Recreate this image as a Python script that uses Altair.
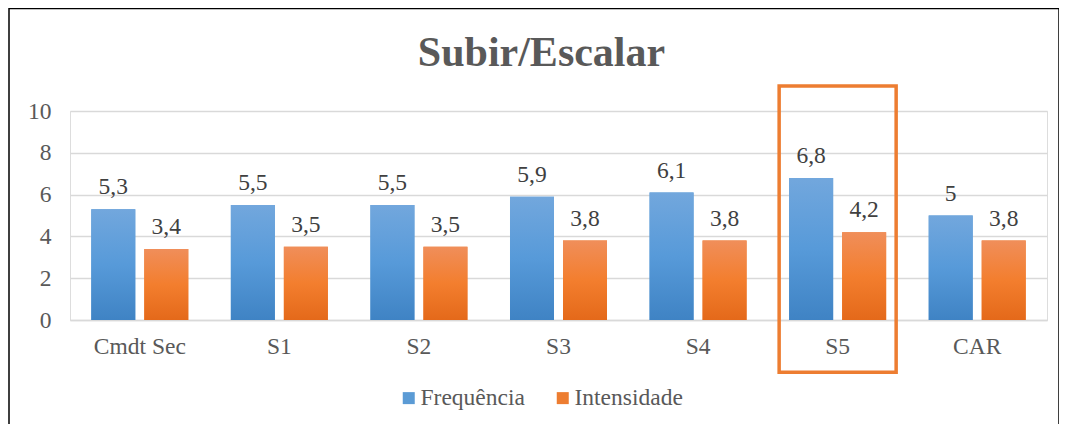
import altair as alt
import pandas as pd

categories = ["Cmdt Sec", "S1", "S2", "S3", "S4", "S5", "CAR"]
frequencia = [5.3, 5.5, 5.5, 5.9, 6.1, 6.8, 5.0]
intensidade = [3.4, 3.5, 3.5, 3.8, 3.8, 4.2, 3.8]
series_names = ["Frequência", "Intensidade"]
highlight = "S5"


def fmt(v):
    s = f"{v:g}"
    return s.replace(".", ",")


rows = []
for c, f, i in zip(categories, frequencia, intensidade):
    rows.append({"cat": c, "series": series_names[0], "value": f, "label": fmt(f)})
    rows.append({"cat": c, "series": series_names[1], "value": i, "label": fmt(i)})
df = pd.DataFrame(rows)

GRAY = "#595959"
FONT = "Times New Roman, Liberation Serif, DejaVu Serif, serif"

xenc = alt.X("cat:N", sort=categories,
             scale=alt.Scale(paddingInner=0.305, paddingOuter=0.1525),
             axis=alt.Axis(title=None, labelAngle=0, labelFontSize=23.5, labelFont=FONT,
                           labelColor=GRAY, ticks=False, domainColor="#d9d9d9",
                           domainWidth=1.5, labelPadding=14))
xoff = alt.XOffset("series:N", sort=series_names, scale=alt.Scale(paddingInner=0.17))
yenc = alt.Y("value:Q", scale=alt.Scale(domain=[0, 10], nice=False, zero=True),
             axis=alt.Axis(title=None, values=[0, 2, 4, 6, 8, 10], labelFontSize=23.5,
                           labelFont=FONT, labelColor=GRAY, ticks=False, domain=False,
                           gridColor="#d9d9d9", gridWidth=1.5, labelPadding=19))

base = alt.Chart(df)

solid = base.mark_bar().encode(
    x=xenc, xOffset=xoff, y=yenc,
    color=alt.Color("series:N", sort=series_names,
                    scale=alt.Scale(domain=series_names, range=["#5b9bd5", "#ed7d31"]),
                    legend=alt.Legend(title=None, orient="none", direction="horizontal",
                                      legendX=327, legendY=275, symbolType="square",
                                      symbolSize=144, symbolOpacity=1, labelFontSize=23.5,
                                      labelFont=FONT, labelColor=GRAY, labelOffset=0,
                                      columnPadding=26, symbolStrokeWidth=0)),
)

blue_grad = alt.LinearGradient(gradient="linear", x1=0, x2=0, y1=0, y2=1, stops=[
    alt.GradientStop(offset=0, color="#72a7dd"),
    alt.GradientStop(offset=0.5, color="#579ad9"),
    alt.GradientStop(offset=1, color="#3f83c4")])
orange_grad = alt.LinearGradient(gradient="linear", x1=0, x2=0, y1=0, y2=1, stops=[
    alt.GradientStop(offset=0, color="#f08e5a"),
    alt.GradientStop(offset=0.5, color="#f37e2e"),
    alt.GradientStop(offset=1, color="#e4691a")])

blue = base.transform_filter(alt.datum.series == series_names[0]).mark_bar(
    color=blue_grad).encode(x=xenc, xOffset=xoff, y=yenc)
orange = base.transform_filter(alt.datum.series == series_names[1]).mark_bar(
    color=orange_grad).encode(x=xenc, xOffset=xoff, y=yenc)

labels = base.mark_text(baseline="alphabetic", dy=-15, fontSize=23.5, font=FONT,
                        color="#404040").encode(x=xenc, xOffset=xoff, y=yenc,
                                                text="label:N")

hl_df = pd.DataFrame({"cat": [highlight], "top": [11.2], "bottom": [-2.5]})
hl = alt.Chart(hl_df).mark_bar(size=117, filled=False, stroke="#ed7d31",
                               strokeWidth=3.5, fill=None).encode(
    x=alt.X("cat:N", sort=categories), y=alt.Y("top:Q"), y2="bottom:Q")

border_df = pd.DataFrame({"k": [0]})
border = alt.Chart(border_df).mark_rect(fill=None, stroke="#000000", strokeWidth=1.5).encode(
    x=alt.value(-61), x2=alt.value(989), y=alt.value(-102.5), y2=alt.value(330))

chart = alt.layer(solid, blue, orange, labels, hl, border).properties(
    width=977, height=209,
    title=alt.TitleParams("Subir/Escalar", fontSize=42, font=FONT, fontWeight="bold",
                          color=GRAY, anchor="middle", dx=-17, offset=-100,
                          baseline="alphabetic"),
    autosize=alt.AutoSizeParams(type="none"),
    padding={"left": 62, "top": 103, "right": 12, "bottom": 104},
).configure_view(stroke=None).configure(background="white")

chart.save("out.html", embed_options={"renderer": "svg", "actions": False})
